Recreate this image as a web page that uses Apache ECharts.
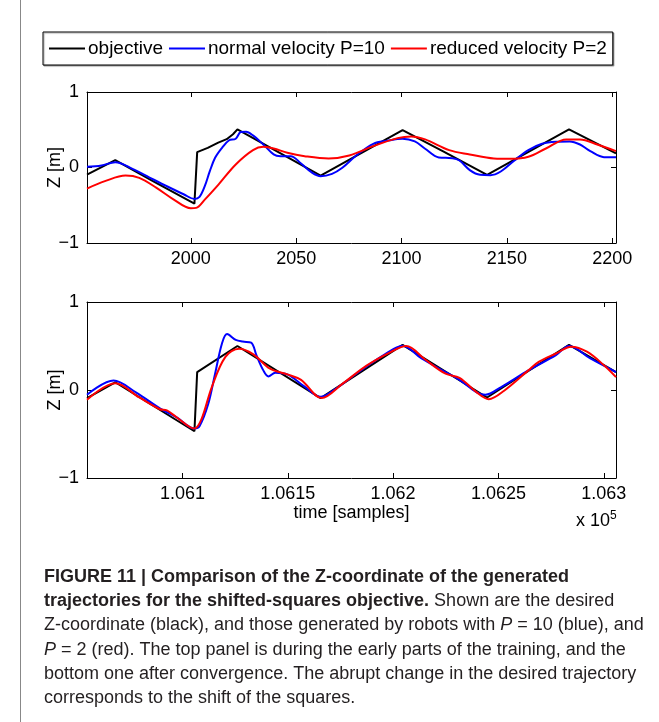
<!DOCTYPE html>
<html>
<head>
<meta charset="utf-8">
<script src="https://cdn.jsdelivr.net/npm/echarts@6/dist/echarts.min.js"></script>
<style>
html,body{margin:0;padding:0;background:#fff;}
#chart{width:659px;height:722px;}
</style>
</head>
<body>
<div id="chart"></div>
<script>
// ---------- data ----------
const seriesNames = ['objective', 'normal velocity P=10', 'reduced velocity P=2'];
const yTicks = [-1, 0, 1];
const xTicksTop = [2000, 2050, 2100, 2150, 2200];
const xTicksBottom = [106100, 106150, 106200, 106250, 106300];
const xRangeTop = [1950.7, 2201.8];
const xRangeBottom = [106054.7, 106305.8];

// top panel (early training)
const topBlackT = [1950.7, 1964.1, 1982.0, 2001.7, 2003.0, 2008.0, 2013.0, 2017.0, 2020.0, 2022.1, 2061.6, 2100.5, 2120.0, 2140.6, 2179.5, 2201.8];
const topBlackZ = [-0.093, 0.097, -0.180, -0.478, 0.204, 0.260, 0.330, 0.375, 0.440, 0.504, -0.106, 0.496, 0.210, -0.097, 0.504, 0.186];
const topBlueT = [1950.7, 1957.6, 1964.1, 1972.3, 1980.4, 1988.6, 1996.8, 2001.7, 2004.1, 2006.6, 2009.0, 2011.5, 2014.8, 2018.0, 2021.3, 2023.7, 2026.2, 2029.5, 2034.4, 2039.3, 2042.5, 2047.4, 2052.3, 2057.2, 2061.6, 2067.0, 2071.9, 2078.5, 2086.6, 2093.2, 2100.5, 2106.3, 2111.2, 2117.7, 2124.2, 2127.5, 2132.4, 2137.3, 2142.2, 2147.1, 2153.6, 2160.2, 2166.7, 2173.3, 2179.8, 2184.7, 2189.6, 2196.1, 2201.8];
const topBlueZ = [0.009, 0.027, 0.071, -0.018, -0.133, -0.248, -0.358, -0.416, -0.389, -0.248, -0.049, 0.128, 0.261, 0.358, 0.381, 0.469, 0.473, 0.425, 0.305, 0.173, 0.150, 0.150, 0.053, -0.062, -0.115, -0.084, -0.004, 0.159, 0.314, 0.354, 0.381, 0.345, 0.248, 0.133, 0.124, 0.093, -0.035, -0.097, -0.102, -0.053, 0.093, 0.230, 0.314, 0.341, 0.345, 0.305, 0.217, 0.137, 0.137];
const topRedT = [1950.7, 1959.2, 1969.0, 1975.5, 1983.7, 1991.9, 2000.0, 2002.5, 2006.6, 2013.1, 2021.3, 2029.5, 2034.4, 2039.3, 2045.8, 2054.0, 2065.4, 2075.2, 2086.6, 2098.1, 2104.6, 2111.2, 2122.6, 2132.4, 2143.8, 2152.0, 2160.2, 2168.3, 2178.2, 2184.7, 2192.9, 2201.8];
const topRedZ = [-0.279, -0.181, -0.106, -0.137, -0.270, -0.425, -0.540, -0.535, -0.425, -0.226, 0.040, 0.230, 0.274, 0.252, 0.195, 0.150, 0.119, 0.159, 0.283, 0.389, 0.412, 0.372, 0.230, 0.173, 0.119, 0.115, 0.142, 0.248, 0.372, 0.372, 0.305, 0.217];

// bottom panel (after convergence)
const botBlackT = [106054.7, 106068.1, 106105.7, 106107.0, 106126.1, 106165.6, 106204.5, 106244.6, 106283.5, 106305.8];
const botBlackZ = [-0.092, 0.088, -0.469, 0.204, 0.500, -0.092, 0.512, -0.085, 0.512, 0.204];
const botBlueT = [106054.7, 106067.3, 106077.9, 106089.3, 106097.5, 106105.7, 106108.1, 106112.2, 106115.5, 106118.8, 106121.2, 106125.3, 106128.6, 106132.6, 106135.1, 106138.4, 106140.8, 106144.1, 106149.8, 106158.0, 106165.6, 106172.7, 106182.5, 106195.5, 106204.5, 106213.5, 106224.9, 106231.5, 106239.7, 106243.8, 106251.1, 106264.2, 106277.3, 106283.5, 106293.6, 106305.8];
const botBlueZ = [-0.054, 0.108, -0.027, -0.208, -0.315, -0.438, -0.412, -0.162, 0.185, 0.531, 0.635, 0.569, 0.550, 0.538, 0.396, 0.223, 0.154, 0.196, 0.177, 0.038, -0.077, 0.012, 0.185, 0.396, 0.504, 0.358, 0.204, 0.115, -0.027, -0.054, 0.031, 0.223, 0.396, 0.500, 0.358, 0.204];
const botRedT = [106054.7, 106068.1, 106079.5, 106089.3, 106092.6, 106097.5, 106105.7, 106109.0, 106113.9, 106120.4, 106126.9, 106133.5, 106141.6, 106149.8, 106156.3, 106166.1, 106175.9, 106187.4, 106198.8, 106206.2, 106215.2, 106224.9, 106231.5, 106239.7, 106245.4, 106252.7, 106264.2, 106269.1, 106277.3, 106284.6, 106292.0, 106300.1, 106305.8];
const botRedZ = [-0.112, 0.077, -0.085, -0.219, -0.231, -0.315, -0.438, -0.335, 0.031, 0.377, 0.469, 0.408, 0.242, 0.177, 0.115, -0.092, 0.069, 0.277, 0.431, 0.500, 0.346, 0.185, 0.138, -0.027, -0.104, -0.008, 0.223, 0.319, 0.415, 0.492, 0.435, 0.281, 0.146];

// ---------- chart ----------
const FONT = '"Liberation Sans", Arial, Helvetica, sans-serif';
const zip = (a, b) => a.map((v, i) => [v, b[i]]);
const colors = ['#000000', '#0000ff', '#ff0000'];

function xAxes(gridIndex, range, ticks, fmt, extra) {
  const base = {
    type: 'value', gridIndex, min: range[0], max: range[1],
    axisLine: { show: true, onZero: false, lineStyle: { color: '#000', width: 1 } },
    axisTick: { show: true, inside: true, length: 5, customValues: ticks, lineStyle: { color: '#000' } },
    splitLine: { show: false }
  };
  return [
    Object.assign({}, base, {
      position: 'bottom',
      axisLabel: { show: true, customValues: ticks, formatter: fmt, color: '#000', fontSize: 18, fontFamily: FONT, margin: 7 }
    }, extra || {}),
    Object.assign({}, base, { position: 'top', axisLabel: { show: false } })
  ];
}
function yAxes(gridIndex) {
  const base = {
    type: 'value', gridIndex, min: -1, max: 1, interval: 1,
    axisLine: { show: true, onZero: false, lineStyle: { color: '#000', width: 1 } },
    axisTick: { show: true, inside: true, length: 5, lineStyle: { color: '#000' } },
    splitLine: { show: false }
  };
  return [
    Object.assign({}, base, {
      position: 'left',
      name: 'Z [m]', nameLocation: 'middle', nameRotate: 90, nameGap: 23,
      nameMoveOverlap: false,
      nameTextStyle: { color: '#000', fontSize: 18, fontFamily: FONT },
      axisLabel: { show: true, color: '#000', fontSize: 18, fontFamily: FONT, margin: 8,
        formatter: v => (v < 0 ? '\u2212' + Math.abs(v) : String(v)) }
    }),
    Object.assign({}, base, { position: 'right', axisLabel: { show: false } })
  ];
}

const chart = echarts.init(document.getElementById('chart'), null, { renderer: 'canvas' });

const xa = [].concat(
  xAxes(0, xRangeTop, xTicksTop, v => String(v)),
  xAxes(1, xRangeBottom, xTicksBottom, v => String(+(v / 1e5).toFixed(4)), {
    name: 'time [samples]', nameLocation: 'middle', nameGap: 26,
    nameTextStyle: { color: '#000', fontSize: 18, fontFamily: FONT }
  })
);
const ya = [].concat(yAxes(0), yAxes(1));

function line(name, data, xi, yi, color, width, smooth) {
  return {
    name, type: 'line', data, xAxisIndex: xi, yAxisIndex: yi,
    showSymbol: false, symbol: 'none', smooth: smooth, animation: false,
    lineStyle: { color, width }, itemStyle: { color }
  };
}

const captionX = 44;
const capFont = 18;
const rich = {
  b: { fontWeight: 'bold', fontSize: capFont, fontFamily: FONT, fill: '#231f20', color: '#231f20' },
  i: { fontStyle: 'italic', fontSize: capFont, fontFamily: FONT, fill: '#231f20', color: '#231f20' }
};
function capLine(text, y, bold) {
  return {
    type: 'text', left: captionX, top: y, silent: true,
    style: {
      text, fill: '#231f20', fontSize: capFont, fontFamily: FONT,
      fontWeight: bold ? 'bold' : 'normal', rich
    }
  };
}

chart.setOption({
  animation: false,
  backgroundColor: '#ffffff',
  color: colors,
  legend: {
    data: seriesNames,
    left: 43, top: 32,
    orient: 'horizontal',
    icon: 'rect', itemWidth: 36, itemHeight: 2, itemGap: 6,
    padding: [7, 6, 7, 6],
    borderColor: '#000', borderWidth: 1, backgroundColor: '#fff',
    shadowColor: 'rgba(0,0,0,0.35)', shadowOffsetX: 1, shadowOffsetY: 1, shadowBlur: 1,
    textStyle: { color: '#000', fontSize: 19, fontFamily: FONT, padding: [0, 0, 0, -2] },
    selectedMode: false
  },
  grid: [
    { left: 87, top: 92, width: 529, height: 151 },
    { left: 87, top: 302, width: 529, height: 176 }
  ],
  xAxis: xa,
  yAxis: ya,
  series: [
    line(seriesNames[0], zip(topBlackT, topBlackZ), 0, 0, colors[0], 2, false),
    line(seriesNames[1], zip(topBlueT, topBlueZ), 0, 0, colors[1], 2, 0.35),
    line(seriesNames[2], zip(topRedT, topRedZ), 0, 0, colors[2], 2, 0.35),
    line(seriesNames[0], zip(botBlackT, botBlackZ), 2, 2, colors[0], 2, false),
    line(seriesNames[1], zip(botBlueT, botBlueZ), 2, 2, colors[1], 2, 0.35),
    line(seriesNames[2], zip(botRedT, botRedZ), 2, 2, colors[2], 2, 0.35)
  ],
  graphic: [
    { type: 'line', silent: true, shape: { x1: 20.5, y1: 0, x2: 20.5, y2: 722 }, style: { stroke: '#888', lineWidth: 1 } },
    {
      type: 'text', left: 576, top: 510, silent: true,
      style: {
        text: 'x 10{s|5}', fill: '#000', fontSize: 18, fontFamily: FONT,
        rich: { s: { fontSize: 12, fontFamily: FONT, fill: '#000', verticalAlign: 'top', padding: [0, 0, 10, 0] } }
      }
    },
    capLine('FIGURE 11 | Comparison of the Z-coordinate of the generated', 568, true),
    capLine('{b|trajectories for the shifted-squares objective.} Shown are the desired', 592, false),
    capLine('Z-coordinate (black), and those generated by robots with {i|P} = 10 (blue), and', 616, false),
    capLine('{i|P} = 2 (red). The top panel is during the early parts of the training, and the', 641, false),
    capLine('bottom one after convergence. The abrupt change in the desired trajectory', 665, false),
    capLine('corresponds to the shift of the squares.', 689, false)
  ]
});
</script>
</body>
</html>
